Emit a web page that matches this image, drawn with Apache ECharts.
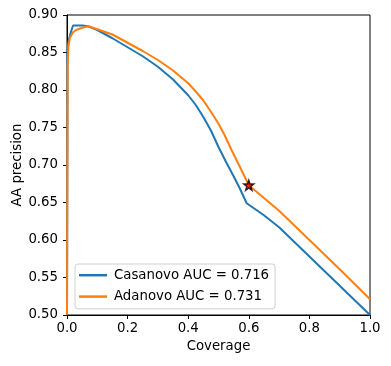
<!DOCTYPE html>
<html><head><meta charset="utf-8">
<script src="https://cdn.jsdelivr.net/npm/echarts@6/dist/echarts.min.js"></script>
<style>html,body{margin:0;padding:0;background:#fff}#c{width:391px;height:366px}</style>
</head><body><div id="c"></div>
<script>
const casanovoCov = [0, 0.002, 0.005, 0.01, 0.015, 0.02, 0.03, 0.05, 0.07, 0.1, 0.15, 0.2, 0.25, 0.3, 0.35, 0.4, 0.425, 0.45, 0.475, 0.5, 0.525, 0.55, 0.57, 0.593, 0.65, 0.7, 0.8, 0.9, 1.0];
const casanovoPrec = [0.5, 0.85, 0.865, 0.873, 0.88, 0.886, 0.886, 0.886, 0.885, 0.880, 0.869, 0.857, 0.845, 0.831, 0.814, 0.793, 0.780, 0.764, 0.746, 0.724, 0.704, 0.685, 0.669, 0.649, 0.633, 0.617, 0.578, 0.539, 0.5];
const adanovoCov = [0, 0.002, 0.005, 0.01, 0.02, 0.03, 0.05, 0.07, 0.1, 0.15, 0.2, 0.25, 0.3, 0.35, 0.4, 0.425, 0.45, 0.475, 0.5, 0.52, 0.543, 0.57, 0.6, 0.65, 0.7, 0.8, 0.9, 1.0];
const adanovoPrec = [0.5, 0.83, 0.860, 0.870, 0.877, 0.880, 0.883, 0.885, 0.881, 0.874, 0.863, 0.852, 0.840, 0.826, 0.809, 0.798, 0.786, 0.771, 0.755, 0.740, 0.720, 0.698, 0.673, 0.656, 0.639, 0.600, 0.561, 0.521];
const starPoint = [0.6, 0.673];
const seriesNames = ['Casanovo AUC = 0.716', 'Adanovo AUC = 0.731'];
const xTitle = 'Coverage';
const yTitle = 'AA precision';

const font = 'DejaVu Sans';
const zip = (a, b) => a.map((v, i) => [v, b[i]]);
const chart = echarts.init(document.getElementById('c'), null, {renderer: 'canvas'});
chart.setOption({
  animation: false,
  backgroundColor: '#fff',
  textStyle: {fontFamily: font},
  grid: {left: 67, right: 21, top: 15, bottom: 51, show: true, borderColor: '#000', borderWidth: 1, outerBoundsMode: 'none', containLabel: false},
  xAxis: {
    type: 'value', min: 0, max: 1, interval: 0.2,
    name: xTitle, nameLocation: 'middle', nameGap: 25, nameMoveOverlap: false,
    nameTextStyle: {fontFamily: font, fontSize: 13.3, color: '#000'},
    axisLine: {show: true, onZero: false, lineStyle: {color: '#000', width: 1}},
    axisTick: {show: true, inside: false, length: 4, lineStyle: {color: '#000'}},
    axisLabel: {fontFamily: font, fontSize: 13.3, color: '#000', margin: 7, formatter: v => v.toFixed(1)},
    splitLine: {show: false}
  },
  yAxis: {
    type: 'value', min: 0.5, max: 0.9, interval: 0.05,
    name: yTitle, nameLocation: 'middle', nameGap: 43, nameMoveOverlap: false,
    nameTextStyle: {fontFamily: font, fontSize: 13.3, color: '#000'},
    axisLine: {show: true, onZero: false, lineStyle: {color: '#000', width: 1}},
    axisTick: {show: true, inside: false, length: 4, lineStyle: {color: '#000'}},
    axisLabel: {fontFamily: font, fontSize: 13.3, color: '#000', margin: 9, formatter: v => v.toFixed(2)},
    splitLine: {show: false}
  },
  legend: {
    orient: 'vertical', left: 75, top: 264,
    padding: [4, 6, 5, 4], itemGap: 7, itemWidth: 28, itemHeight: 2.5,
    icon: 'rect',
    backgroundColor: 'rgba(255,255,255,0.8)', borderColor: '#d0d0d0', borderWidth: 1, borderRadius: 3,
    textStyle: {fontFamily: font, fontSize: 13.3, color: '#000', lineHeight: 14.4, padding: [0, 0, 0, 2]},
    data: seriesNames
  },
  series: [
    {name: seriesNames[0], type: 'line', data: zip(casanovoCov, casanovoPrec), symbol: 'none', smooth: false,
     lineStyle: {color: '#1f77b4', width: 2}, itemStyle: {color: '#1f77b4'}, z: 2},
    {name: seriesNames[1], type: 'line', data: zip(adanovoCov, adanovoPrec), symbol: 'none', smooth: false,
     lineStyle: {color: '#ff7f0e', width: 2}, itemStyle: {color: '#ff7f0e'}, z: 3},
    {name: 'star', type: 'scatter', data: [starPoint], z: 5,
     symbol: 'path://M0,-10 L2.35,-3.24 L9.51,-3.09 L3.8,1.24 L5.88,8.09 L0,4 L-5.88,8.09 L-3.8,1.24 L-9.51,-3.09 L-2.35,-3.24 Z',
     symbolSize: 10, itemStyle: {color: '#ff0000', borderColor: '#000', borderWidth: 1.5}}
  ]
});
</script></body></html>
